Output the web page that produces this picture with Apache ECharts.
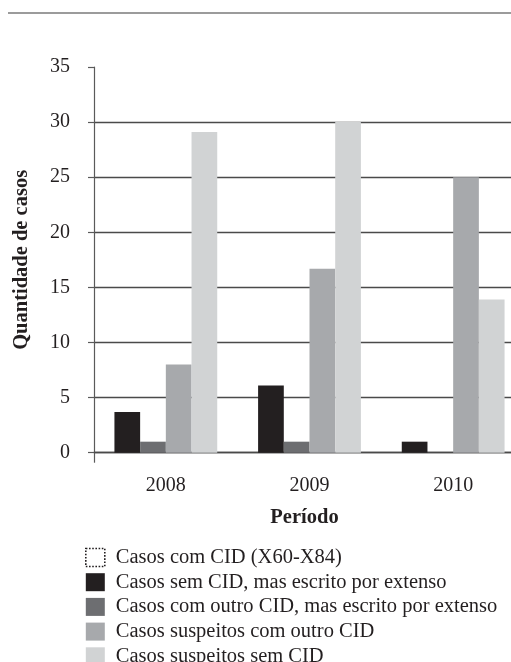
<!DOCTYPE html>
<html>
<head>
<meta charset="utf-8">
<script src="https://cdn.jsdelivr.net/npm/echarts@6/dist/echarts.min.js"></script>
<style>
  html, body { margin: 0; padding: 0; background: #ffffff; }
  #chart { width: 511px; height: 662px; }
</style>
</head>
<body>
<div id="chart"></div>
<script>
// Periods on the category axis
const periodos = ['2008', '2009', '2010'];

// Series names (legend order)
const nomes = [
  'Casos com CID (X60-X84)',
  'Casos sem CID, mas escrito por extenso',
  'Casos com outro CID, mas escrito por extenso',
  'Casos suspeitos com outro CID',
  'Casos suspeitos sem CID'
];

// Case counts per period
const comCID = [null, null, null];
const semCIDExtenso = [3.7, 6.1, 1];
const outroCIDExtenso = [1, 1, 0];
const suspeitosOutroCID = [8, 16.7, 25];
const suspeitosSemCID = [29.1, 30, 13.9];

// Value axis ticks
const yMin = 0, yMax = 35, yStep = 5;

const cores = ['#ffffff', '#231f20', '#6d6e71', '#a7a9ac', '#d1d3d4'];
const fonte = '"Liberation Serif", "DejaVu Serif", serif';
const texto = '#231f20';

const chart = echarts.init(document.getElementById('chart'), null, { renderer: 'canvas' });

function barra(nome, dados, cor, extra) {
  return Object.assign({
    name: nome,
    type: 'bar',
    data: dados,
    barWidth: 25.7,
    barGap: '0%',
    itemStyle: { color: cor },
    emphasis: { disabled: true },
    animation: false
  }, extra || {});
}

// One split line per tick; the top one (35) is left blank
const nLinhas = Math.round((yMax - yMin) / yStep) + 1;
const coresLinhas = [];
for (let i = 0; i < nLinhas; i++) coresLinhas.push(i === nLinhas - 1 ? 'rgba(0,0,0,0)' : '#4a4a4a');

chart.setOption({
  backgroundColor: '#ffffff',
  animation: false,
  textStyle: { fontFamily: fonte },
  // plot area runs a little past the right edge of the canvas
  grid: { left: 94, width: 431, top: 67, height: 385.7, containLabel: false, outerBoundsMode: 'none' },
  graphic: [{
    type: 'line',
    shape: { x1: 8, y1: 13, x2: 511, y2: 13 },
    style: { stroke: '#7a7a7a', lineWidth: 1.6 },
    silent: true
  }],
  legend: {
    orient: 'vertical',
    left: 85,
    top: 547,
    height: 140,
    padding: 0,
    itemWidth: 19,
    itemHeight: 18,
    itemGap: 3.7,
    icon: 'rect',
    selectedMode: false,
    textStyle: { fontFamily: fonte, fontSize: 20.5, color: texto, lineHeight: 20, padding: [0, 0, 0, 6] },
    data: [
      { name: nomes[0], itemStyle: { color: '#ffffff', borderColor: '#231f20', borderWidth: 1.6, borderType: 'dotted' } },
      { name: nomes[1] },
      { name: nomes[2] },
      { name: nomes[3] },
      { name: nomes[4] }
    ]
  },
  xAxis: {
    type: 'category',
    data: periodos,
    boundaryGap: true,
    name: 'Período',
    nameLocation: 'middle',
    nameGap: 55,
    nameTextStyle: { fontFamily: fonte, fontSize: 20.5, fontWeight: 'bold', color: texto, padding: [0, 10, 0, 0] },
    axisLine: { show: true, lineStyle: { color: '#4a4a4a', width: 1.3 } },
    axisTick: {
      show: true,
      length: 10,
      interval: function (i) { return i === 0; },
      lineStyle: { color: '#5a5a5a', width: 1.2 }
    },
    axisLabel: { fontFamily: fonte, fontSize: 20, color: texto, margin: 23 },
    splitLine: { show: false }
  },
  yAxis: {
    type: 'value',
    min: yMin,
    max: yMax,
    interval: yStep,
    name: 'Quantidade de casos',
    nameLocation: 'middle',
    nameGap: 62,
    nameTextStyle: { fontFamily: fonte, fontSize: 20.5, fontWeight: 'bold', color: texto },
    axisLine: { show: true, lineStyle: { color: '#5a5a5a', width: 1.2 } },
    axisTick: { show: true, inside: false, length: 6, lineStyle: { color: '#5a5a5a', width: 1.2 } },
    axisLabel: { fontFamily: fonte, fontSize: 20, color: texto, margin: 24 },
    splitLine: { show: true, lineStyle: { color: coresLinhas, width: 1.3 } }
  },
  series: [
    barra(nomes[0], comCID, cores[0], { stack: 'extenso', itemStyle: { color: cores[0], borderColor: '#231f20', borderType: 'dotted', borderWidth: 1.5 } }),
    barra(nomes[1], semCIDExtenso, cores[1], { stack: 'extenso' }),
    barra(nomes[2], outroCIDExtenso, cores[2]),
    barra(nomes[3], suspeitosOutroCID, cores[3]),
    barra(nomes[4], suspeitosSemCID, cores[4])
  ]
});
</script>
</body>
</html>
